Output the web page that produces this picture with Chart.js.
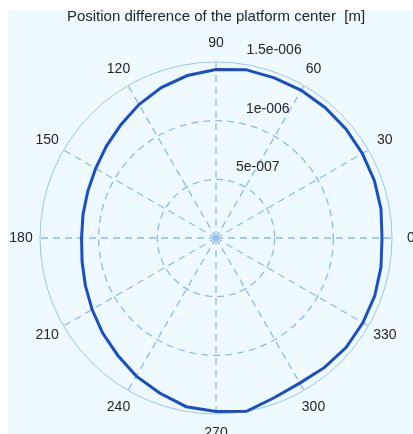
<!DOCTYPE html>
<html>
<head>
<meta charset="utf-8">
<script src="https://cdn.jsdelivr.net/npm/chart.js@4.4.0/dist/chart.umd.min.js"></script>
<style>
	html, body { margin: 0; padding: 0; background: #ffffff; }
	#wrap { width: 413px; height: 434px; }
</style>
</head>
<body>
<div id="wrap"><canvas id="polarChart"></canvas></div>
<script>
// angle of each sample, degrees (counter-clockwise from the right)
const angles = [0, 10, 20, 30, 40, 50, 60, 70, 80, 90, 100, 110, 120, 130, 140, 150, 160, 170,
	180, 190, 200, 210, 220, 230, 240, 250, 260, 270, 280, 290, 300, 310, 320, 330, 340, 350];

// position difference [m]
const positionDiff = [1.415e-6, 1.428e-6, 1.436e-6, 1.440e-6, 1.445e-6, 1.449e-6, 1.453e-6, 1.453e-6,
	1.457e-6, 1.436e-6, 1.406e-6, 1.364e-6, 1.313e-6, 1.261e-6, 1.219e-6, 1.185e-6, 1.163e-6, 1.151e-6,
	1.146e-6, 1.159e-6, 1.185e-6, 1.219e-6, 1.261e-6, 1.304e-6, 1.359e-6, 1.406e-6, 1.460e-6, 1.479e-6,
	1.500e-6, 1.449e-6, 1.428e-6, 1.440e-6, 1.449e-6, 1.445e-6, 1.440e-6, 1.428e-6];

const angleTicks = [0, 30, 60, 90, 120, 150, 180, 210, 240, 270, 300, 330];
const radialTicks = [5e-7, 1e-6, 1.5e-6];
const radialTickLabels = ["5e-007", "1e-006", "1.5e-006"];

const gridColor = "#8fb9ee";
const textColor = "#262626";
const labelFont = "14px 'Liberation Sans', Arial, sans-serif";

// radar goes clockwise, so feed it 0, 350, 340 ... to get matlab's counter-clockwise
const order = [0];
for (let i = angles.length - 1; i > 0; i--) order.push(i);
const radarLabels = order.map(i => angles[i]);
const radarData = order.map(i => positionDiff[i]);

function isOuterRing(ctx) {
	return ctx.tick && ctx.tick.value > 1.4e-6;
}

const polarDecor = {
	id: "polarDecor",
	beforeDraw(chart) {
		const ctx = chart.ctx;
		ctx.save();
		ctx.fillStyle = "#ffffff";
		ctx.fillRect(0, 0, chart.width, chart.height);
		ctx.fillStyle = "#eefaff";
		ctx.fillRect(8, 10, chart.width - 8, chart.height - 10);
		ctx.restore();
	},
	afterDraw(chart) {
		const scale = chart.scales.r;
		const ctx = chart.ctx;
		const outer = scale.getDistanceFromCenterForValue(scale.max);
		ctx.save();
		ctx.font = labelFont;
		ctx.fillStyle = textColor;
		ctx.textAlign = "center";
		ctx.textBaseline = "middle";
		angleTicks.forEach(a => {
			const idx = radarLabels.indexOf(a);
			const p = scale.getPointPosition(idx, outer + 19);
			ctx.fillText(String(a), p.x, p.y);
		});
		ctx.textAlign = "left";
		radialTicks.forEach((v, i) => {
			const d = scale.getDistanceFromCenterForValue(v);
			ctx.fillText(radialTickLabels[i], scale.xCenter + 10 + Math.min(d, 120) * 0.17, scale.yCenter - d - 12);
		});
		ctx.restore();
	}
};

new Chart(document.getElementById("polarChart"), {
	type: "radar",
	data: {
		labels: radarLabels,
		datasets: [{
			label: "Position difference",
			data: radarData,
			borderColor: "#1a4ec6",
			borderWidth: 3,
			pointRadius: 0,
			fill: false,
			tension: 0
		}]
	},
	options: {
		responsive: true,
		maintainAspectRatio: false,
		animation: false,
		layout: {
			padding: { left: 40, right: 21, top: 0, bottom: 20 }
		},
		plugins: {
			legend: { display: false },
			tooltip: { enabled: false },
			title: {
				display: true,
				text: "Position difference of the platform center  [m]",
				color: textColor,
				font: { family: "'Liberation Sans', Arial, sans-serif", size: 15, weight: "normal" },
				padding: { top: 8, bottom: 36 }
			}
		},
		scales: {
			r: {
				min: 0,
				max: 1.5e-6,
				startAngle: 90,
				ticks: { display: false, stepSize: 5e-7 },
				pointLabels: { display: false },
				grid: {
					circular: true,
					color: ctx => isOuterRing(ctx) ? "#9ec4f2" : gridColor,
					lineWidth: ctx => isOuterRing(ctx) ? 1 : 1.3
				},
				border: {
					dash: ctx => isOuterRing(ctx) ? [] : [7, 5]
				},
				angleLines: {
					color: gridColor,
					lineWidth: ctx => (radarLabels[ctx.index] % 30 === 0) ? 1.3 : 0,
					borderDash: [7, 5]
				}
			}
		}
	},
	plugins: [polarDecor]
});
</script>
</body>
</html>
